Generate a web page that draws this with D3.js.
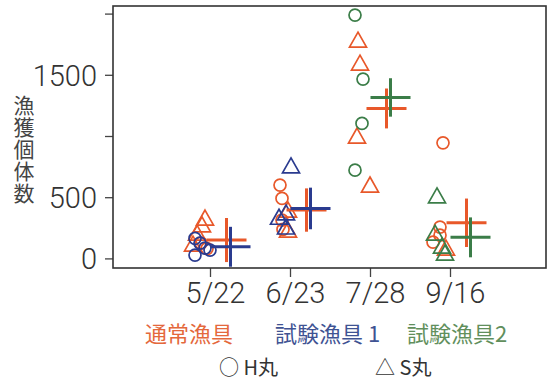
<!DOCTYPE html>
<html>
<head>
<meta charset="utf-8">
<script src="https://cdn.jsdelivr.net/npm/d3@7"></script>
<style>
  html, body { margin: 0; padding: 0; background: #fff; }
  svg { display: block; }
</style>
</head>
<body>
<svg id="chart" width="548" height="379"></svg>
<script>
// Survey dates and tick labels
const dates = ["5/22", "6/23", "7/28", "9/16"];
const yTicks = [0, 500, 1000, 1500, 2000];
const yTickLabels = ["0", "500", "", "1500", ""];
const gearNames = ["通常漁具", "試験漁具 1", "試験漁具2"];
const vesselNames = ["H丸", "S丸"];

// Catch counts per haul, one list per date, by gear and vessel
const usualH = [[125, 80], [599, 490, 313, 237], [], [944, 256, 190, 133]];
const usualS = [[313, 258, 190, 100], [378, 215], [1767, 1579, 983, 583], [68]];
const test1H = [[163, 125, 84, 68, 27], [], [], []];
const test1S = [[], [739, 355, 320, 240], [], []];
const test2H = [[], [], [1988, 1465, 1103, 721], []];
const test2S = [[], [], [], [494, 190, 84, 27]];

// Mean catch and error span per date (null = gear not used that day)
const usualMean = [150, 395, 1225, 291];
const usualErr = [180, 177, 163, 198];
const test1Mean = [95, 408, null, null];
const test1Err = [163, 170, null, null];
const test2Mean = [null, null, 1315, 172];
const test2Err = [null, null, 157, 163];

// ---- layout ----
const frame = { left: 113, top: 6, right: 546, bottom: 268 };
const colors = { usual: "#e8582a", test1: "#2a3b8f", test2: "#3b7d48" };
const legendColors = ["#e4683c", "#3f5393", "#618f5c"];

// horizontal scatter of the individual hauls left of each date tick
const jitter = {
  usualH: [[-9, -3], [-10, -8, -8, -7], [], [-7, -10, -10, -17]],
  usualS: [[-5, -8, -13, -17], [-2, -2], [-12, -10, -13, 0], [-4]],
  test1H: [[-15, -10, -5, 0, -15], [], [], []],
  test1S: [[], [1, -4, -11, -4], [], []],
  test2H: [[], [], [-15, -7, -8, -15], []],
  test2S: [[], [], [], [-13, -15, -8, -5]]
};

const svg = d3.select("#chart");
const y = d3.scaleLinear().domain([0, 2000]).range([258.4, 13.6]);
const x = d3.scalePoint().domain(dates).range([210, 450]);

const axisFont = "Roboto, 'Liberation Sans', Arial, sans-serif";
const cjkFont = "'Noto Sans CJK JP', sans-serif";

svg.append("defs").append("clipPath").attr("id", "plotClip")
  .append("rect")
  .attr("x", frame.left).attr("y", frame.top)
  .attr("width", frame.right - frame.left)
  .attr("height", frame.bottom - frame.top);

// Y axis
const yAxis = svg.append("g")
  .attr("transform", `translate(${frame.left},0)`)
  .call(d3.axisLeft(y).tickValues(yTicks)
    .tickFormat((d, i) => yTickLabels[i]).tickSize(8).tickPadding(8));
yAxis.select(".domain").remove();
yAxis.selectAll("line").attr("stroke", "#444").attr("stroke-width", 1.3);
yAxis.selectAll("text").attr("font-family", axisFont).attr("font-size", 29)
  .attr("font-weight", 300).attr("fill", "#333").attr("dy", "0.36em");

// X axis
const xAxis = svg.append("g")
  .attr("transform", `translate(0,${frame.bottom})`)
  .call(d3.axisBottom(x).tickSize(9).tickPadding(5));
xAxis.select(".domain").remove();
xAxis.selectAll("line").attr("stroke", "#444").attr("stroke-width", 1.3);
xAxis.selectAll("text").attr("font-family", axisFont).attr("font-size", 29)
  .attr("font-weight", 300).attr("fill", "#333").attr("dx", 5);

// Plot frame
svg.append("rect")
  .attr("x", frame.left).attr("y", frame.top)
  .attr("width", frame.right - frame.left)
  .attr("height", frame.bottom - frame.top)
  .attr("fill", "none").attr("stroke", "#333").attr("stroke-width", 1.6);

// Y axis title, set in vertical writing mode
svg.append("text")
  .attr("x", 24)
  .attr("y", 95)
  .style("writing-mode", "vertical-rl")
  .style("text-orientation", "upright")
  .style("letter-spacing", "1px")
  .attr("font-family", cjkFont)
  .attr("font-size", 21)
  .attr("fill", "#444")
  .text("漁獲個体数");

// Marker shapes
const triW = 17, triH = 15, circR = 6;
const triPath = `M0,${-2 * triH / 3}L${triW / 2},${triH / 3}L${-triW / 2},${triH / 3}Z`;

const plot = svg.append("g").attr("clip-path", "url(#plotClip)");

function flatten(values, offsets) {
  const out = [];
  values.forEach((list, di) => list.forEach((v, k) => {
    out.push({ date: dates[di], value: v, dx: offsets[di][k] });
  }));
  return out;
}

function drawCircles(values, offsets, color) {
  plot.append("g").selectAll("circle")
    .data(flatten(values, offsets))
    .join("circle")
    .attr("cx", d => x(d.date) + d.dx)
    .attr("cy", d => y(d.value))
    .attr("r", circR)
    .attr("fill", "none")
    .attr("stroke", color)
    .attr("stroke-width", 1.7);
}

function drawTriangles(values, offsets, color) {
  plot.append("g").selectAll("path")
    .data(flatten(values, offsets))
    .join("path")
    .attr("transform", d => `translate(${x(d.date) + d.dx},${y(d.value)})`)
    .attr("d", triPath)
    .attr("fill", "none")
    .attr("stroke", color)
    .attr("stroke-width", 1.7)
    .attr("stroke-linejoin", "miter");
}

function drawCrosses(means, errs, color, offset) {
  const data = means.map((m, i) => ({ date: dates[i], mean: m, err: errs[i] }))
    .filter(d => d.mean != null);
  const g = plot.append("g").attr("stroke", color).attr("stroke-width", 3);
  g.selectAll("line.h").data(data).join("line").attr("class", "h")
    .attr("x1", d => x(d.date) + offset - 20)
    .attr("x2", d => x(d.date) + offset + 20)
    .attr("y1", d => y(d.mean)).attr("y2", d => y(d.mean));
  g.selectAll("line.v").data(data).join("line").attr("class", "v")
    .attr("x1", d => x(d.date) + offset).attr("x2", d => x(d.date) + offset)
    .attr("y1", d => y(d.mean + d.err)).attr("y2", d => y(d.mean - d.err));
}

drawTriangles(usualS, jitter.usualS, colors.usual);
drawCircles(usualH, jitter.usualH, colors.usual);
drawCircles(test1H, jitter.test1H, colors.test1);
drawTriangles(test1S, jitter.test1S, colors.test1);
drawCircles(test2H, jitter.test2H, colors.test2);
drawTriangles(test2S, jitter.test2S, colors.test2);

drawCrosses(usualMean, usualErr, colors.usual, 16.5);
drawCrosses(test1Mean, test1Err, colors.test1, 20.5);
drawCrosses(test2Mean, test2Err, colors.test2, 20.5);

// Legend: gear colours
const gearX = [145, 275, 407];
svg.append("g").selectAll("text")
  .data(gearNames)
  .join("text")
  .attr("x", (d, i) => gearX[i])
  .attr("y", 332)
  .attr("dominant-baseline", "central")
  .attr("font-family", cjkFont)
  .attr("font-size", 22)
  .attr("fill", (d, i) => legendColors[i])
  .text(d => d);

// Legend: vessel shapes
const vesselX = [219, 375];
const vesselMarks = ["○", "△"];
svg.append("g").selectAll("text")
  .data(vesselNames)
  .join("text")
  .attr("x", (d, i) => vesselX[i])
  .attr("y", 366)
  .attr("dominant-baseline", "central")
  .attr("font-family", cjkFont)
  .attr("font-size", 20)
  .attr("fill", "#333")
  .text((d, i) => `${vesselMarks[i]} ${d}`);
</script>
</body>
</html>
